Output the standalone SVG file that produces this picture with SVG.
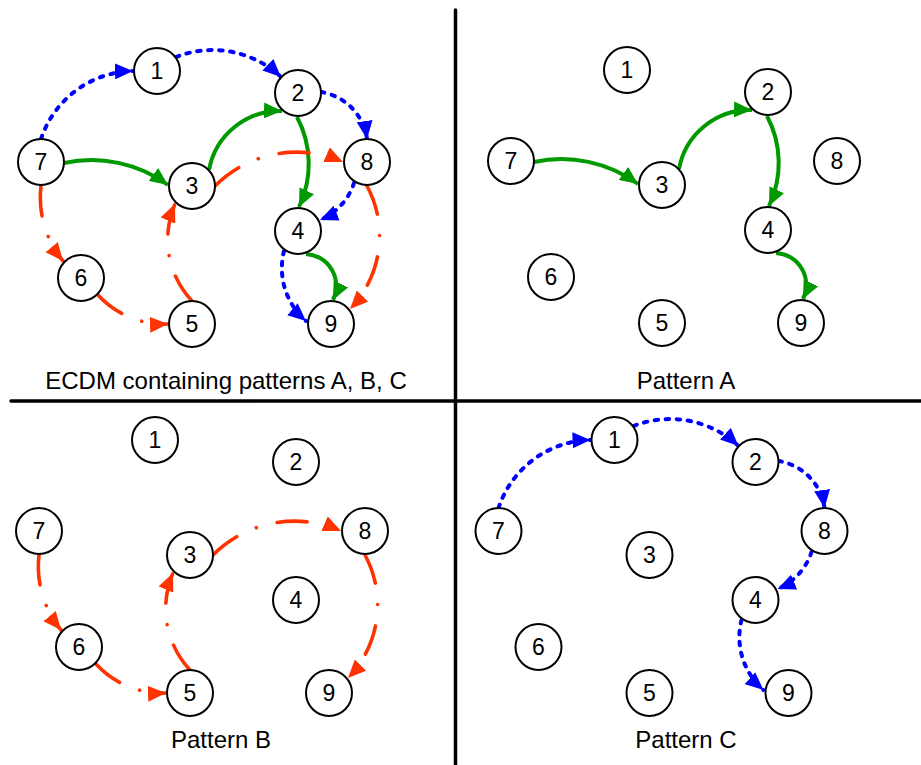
<svg xmlns="http://www.w3.org/2000/svg" width="921" height="765" viewBox="0 0 921 765">
  <style>
    .node circle { fill: #ffffff; stroke: #000000; stroke-width: 2; }
    .node text { font-family: "Liberation Sans", Arial, sans-serif; font-size: 23px; text-anchor: middle; fill: #000000; }
    .caption { font-family: "Liberation Sans", Arial, sans-serif; font-size: 24px; text-anchor: middle; fill: #000000; }
    .divider { stroke: #000000; stroke-width: 3.5; stroke-linecap: round; }
    .edge { fill: none; stroke-width: 4; }
    .a { stroke: #009900; }
    .b { stroke: #ff3300; stroke-width: 3.6; stroke-dasharray: 30 21.5 0.1 21.5; stroke-linecap: round; }
    .c { stroke: #0000ff; stroke-dasharray: 3.5 7.5; stroke-linecap: round; }
    .a { marker-end: url(#headA); }
    .b { marker-end: url(#headB); }
    .c { marker-end: url(#headC); }
  </style>
  <defs>
    <marker id="headA" viewBox="0 0 18 16" markerWidth="18" markerHeight="16" refX="18" refY="8" orient="auto" markerUnits="userSpaceOnUse">
      <path d="M0,0 L18,8 L0,16 z" fill="#009900"/>
    </marker>
    <marker id="headB" viewBox="0 0 18 16" markerWidth="18" markerHeight="16" refX="18" refY="8" orient="auto" markerUnits="userSpaceOnUse">
      <path d="M0,0 L18,8 L0,16 z" fill="#ff3300"/>
    </marker>
    <marker id="headC" viewBox="0 0 18 16" markerWidth="18" markerHeight="16" refX="18" refY="8" orient="auto" markerUnits="userSpaceOnUse">
      <path d="M0,0 L18,8 L0,16 z" fill="#0000ff"/>
    </marker>
  </defs>

  <rect width="921" height="765" fill="#ffffff"/>

  <!-- quadrant dividers -->
  <line class="divider" x1="455.5" y1="10" x2="455.5" y2="768"/>
  <line class="divider" x1="11" y1="401" x2="924" y2="401"/>

  <!-- connectors -->
  <g id="connectors">
    <g id="edges-ecdm">
      <path class="edge c" d="M41,139 A99,99 0 0,1 133,71"/>
      <path class="edge c" d="M176,57 A100,100 0 0,1 281,77"/>
      <path class="edge c" d="M321,92 A55,55 0 0,1 367,139"/>
      <path class="edge c" d="M354,183 A60,60 0 0,1 320,220"/>
      <path class="edge c" d="M284,251 A70,70 0 0,0 306,321"/>
      <path class="edge a" d="M64,163 A130,130 0 0,1 168,185"/>
      <path class="edge a" d="M209,170 A72,72 0 0,1 282,111"/>
      <path class="edge a" d="M297,117 A100,100 0 0,1 299,207"/>
      <path class="edge a" d="M306,254 A32,32 0 0,1 333,300"/>
      <path class="edge b" d="M41,186 A100,100 0 0,0 63,261"/>
      <path class="edge b" d="M98,295 A90,90 0 0,0 168,324"/>
      <path class="edge b" d="M192,301 A90,90 0 0,1 175,204"/>
      <path class="edge b" d="M215,186 A115,115 0 0,1 343,162"/>
      <path class="edge b" d="M367,186 A105,105 0 0,1 350,309"/>
    </g>
    <g id="edges-pattern-a" transform="translate(470,-1)">
      <path class="edge a" d="M64,163 A130,130 0 0,1 168,185"/>
      <path class="edge a" d="M209,170 A72,72 0 0,1 282,111"/>
      <path class="edge a" d="M297,117 A100,100 0 0,1 299,207"/>
      <path class="edge a" d="M306,254 A32,32 0 0,1 333,300"/>
    </g>
    <g id="edges-pattern-b" transform="translate(-2,369)">
      <path class="edge b" d="M41,186 A100,100 0 0,0 63,261"/>
      <path class="edge b" d="M98,295 A90,90 0 0,0 168,324"/>
      <path class="edge b" d="M192,301 A90,90 0 0,1 175,204"/>
      <path class="edge b" d="M215,186 A115,115 0 0,1 343,162"/>
      <path class="edge b" d="M367,186 A105,105 0 0,1 350,309"/>
    </g>
    <g id="edges-pattern-c" transform="translate(457.5,369)">
      <path class="edge c" d="M41,139 A99,99 0 0,1 133,71"/>
      <path class="edge c" d="M176,57 A100,100 0 0,1 281,77"/>
      <path class="edge c" d="M321,92 A55,55 0 0,1 367,139"/>
      <path class="edge c" d="M354,183 A60,60 0 0,1 320,220"/>
      <path class="edge c" d="M284,251 A70,70 0 0,0 306,321"/>
    </g>
  </g>

  <!-- nodes: ECDM panel -->
  <g id="nodes-ecdm">
    <g class="node" id="ecdm-1" transform="translate(157,71)"><circle r="23"/><text y="8">1</text></g>
    <g class="node" id="ecdm-2" transform="translate(298,93)"><circle r="23"/><text y="8">2</text></g>
    <g class="node" id="ecdm-3" transform="translate(192,186)"><circle r="23"/><text y="8">3</text></g>
    <g class="node" id="ecdm-4" transform="translate(298,231)"><circle r="23"/><text y="8">4</text></g>
    <g class="node" id="ecdm-5" transform="translate(192,324)"><circle r="23"/><text y="8">5</text></g>
    <g class="node" id="ecdm-6" transform="translate(81,278)"><circle r="23"/><text y="8">6</text></g>
    <g class="node" id="ecdm-7" transform="translate(41,162)"><circle r="23"/><text y="8">7</text></g>
    <g class="node" id="ecdm-8" transform="translate(367,162)"><circle r="23"/><text y="8">8</text></g>
    <g class="node" id="ecdm-9" transform="translate(331,324)"><circle r="23"/><text y="8">9</text></g>
  </g>

  <!-- nodes: pattern A panel -->
  <g id="nodes-pattern-a" transform="translate(470,-1)">
    <g class="node" id="pa-1" transform="translate(157,71)"><circle r="23"/><text y="8">1</text></g>
    <g class="node" id="pa-2" transform="translate(298,93)"><circle r="23"/><text y="8">2</text></g>
    <g class="node" id="pa-3" transform="translate(192,186)"><circle r="23"/><text y="8">3</text></g>
    <g class="node" id="pa-4" transform="translate(298,231)"><circle r="23"/><text y="8">4</text></g>
    <g class="node" id="pa-5" transform="translate(192,324)"><circle r="23"/><text y="8">5</text></g>
    <g class="node" id="pa-6" transform="translate(81,278)"><circle r="23"/><text y="8">6</text></g>
    <g class="node" id="pa-7" transform="translate(41,162)"><circle r="23"/><text y="8">7</text></g>
    <g class="node" id="pa-8" transform="translate(367,162)"><circle r="23"/><text y="8">8</text></g>
    <g class="node" id="pa-9" transform="translate(331,324)"><circle r="23"/><text y="8">9</text></g>
  </g>

  <!-- nodes: pattern B panel -->
  <g id="nodes-pattern-b" transform="translate(-2,369)">
    <g class="node" id="pb-1" transform="translate(157,71)"><circle r="23"/><text y="8">1</text></g>
    <g class="node" id="pb-2" transform="translate(298,93)"><circle r="23"/><text y="8">2</text></g>
    <g class="node" id="pb-3" transform="translate(192,186)"><circle r="23"/><text y="8">3</text></g>
    <g class="node" id="pb-4" transform="translate(298,231)"><circle r="23"/><text y="8">4</text></g>
    <g class="node" id="pb-5" transform="translate(192,324)"><circle r="23"/><text y="8">5</text></g>
    <g class="node" id="pb-6" transform="translate(81,278)"><circle r="23"/><text y="8">6</text></g>
    <g class="node" id="pb-7" transform="translate(41,162)"><circle r="23"/><text y="8">7</text></g>
    <g class="node" id="pb-8" transform="translate(367,162)"><circle r="23"/><text y="8">8</text></g>
    <g class="node" id="pb-9" transform="translate(331,324)"><circle r="23"/><text y="8">9</text></g>
  </g>

  <!-- nodes: pattern C panel -->
  <g id="nodes-pattern-c" transform="translate(457.5,369)">
    <g class="node" id="pc-1" transform="translate(157,71)"><circle r="23"/><text y="8">1</text></g>
    <g class="node" id="pc-2" transform="translate(298,93)"><circle r="23"/><text y="8">2</text></g>
    <g class="node" id="pc-3" transform="translate(192,186)"><circle r="23"/><text y="8">3</text></g>
    <g class="node" id="pc-4" transform="translate(298,231)"><circle r="23"/><text y="8">4</text></g>
    <g class="node" id="pc-5" transform="translate(192,324)"><circle r="23"/><text y="8">5</text></g>
    <g class="node" id="pc-6" transform="translate(81,278)"><circle r="23"/><text y="8">6</text></g>
    <g class="node" id="pc-7" transform="translate(41,162)"><circle r="23"/><text y="8">7</text></g>
    <g class="node" id="pc-8" transform="translate(367,162)"><circle r="23"/><text y="8">8</text></g>
    <g class="node" id="pc-9" transform="translate(331,324)"><circle r="23"/><text y="8">9</text></g>
  </g>

  <!-- panel captions -->
  <text class="caption" x="226" y="389">ECDM containing patterns A, B, C</text>
  <text class="caption" x="686" y="389">Pattern A</text>
  <text class="caption" x="221" y="748">Pattern B</text>
  <text class="caption" x="686" y="748">Pattern C</text>
</svg>
